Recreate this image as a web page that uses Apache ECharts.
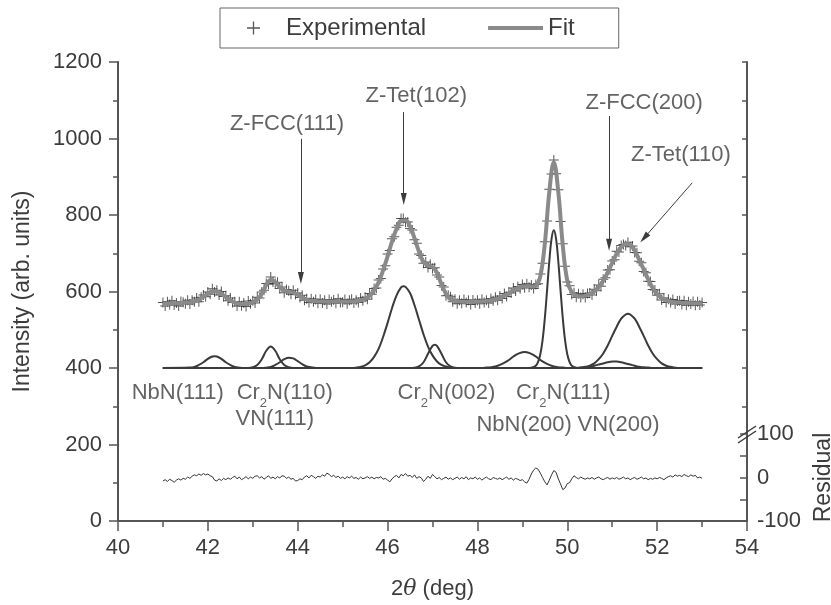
<!DOCTYPE html>
<html>
<head>
<meta charset="utf-8">
<script src="https://cdn.jsdelivr.net/npm/echarts@6/dist/echarts.min.js"></script>
<style>
  html, body { margin: 0; padding: 0; background: #fff; }
  #chart { width: 831px; height: 605px; }
</style>
</head>
<body>
<div id="chart"></div>
<script>
// experimental points, 41.00 .. 53.00 every 0.05 deg
var expStart = 41, expStep = 0.05;
var experimental = [
  571,562,573,566,576,565,570,562,574,572,
  568,577,567,577,573,583,573,585,591,586,
  599,593,607,599,603,591,600,587,589,576,
  583,571,573,562,573,563,570,561,575,568,
  576,570,585,583,599,603,621,619,638,625,
  621,624,608,612,597,605,602,593,603,592,
  596,584,590,577,581,571,581,573,579,569,
  580,570,577,567,579,573,578,569,581,571,
  572,579,568,577,580,570,577,571,583,576,
  585,580,595,593,608,609,630,634,659,667,
  698,707,738,743,768,773,791,791,781,782,
  765,761,735,726,698,694,674,677,663,671,
  660,662,643,638,616,612,589,590,586,573,
  580,568,577,569,579,571,577,566,578,570,
  577,568,580,571,577,570,582,576,585,577,
  588,582,595,587,598,596,609,601,613,607,
  618,610,620,611,617,608,618,620,646,674,
  730,784,867,907,944,908,866,783,725,666,
  625,615,592,597,585,594,584,593,584,595,
  596,591,606,602,617,614,632,636,656,657,
  680,683,705,703,720,723,720,729,717,719,
  702,701,679,675,652,649,627,626,605,604,
  590,594,578,583,571,580,571,579,567,575,
  576,566,576,564,573,567,574,564,573,565,
  571
];

// fit curve, 41.0 .. 53.0 every 0.1 deg
var fitStart = 41, fitStep = 0.1;
var fit = [
  568,568,569,569,570,571,572,574,579,586,
  594,600,600,594,585,577,571,568,567,568,
  572,579,594,617,631,625,611,603,600,597,
  591,584,579,576,575,574,574,574,574,574,
  574,574,574,575,577,581,589,603,624,655,
  692,731,764,785,786,770,739,704,677,667,
  664,649,619,594,580,575,574,573,573,573,
  573,574,575,577,579,583,589,595,603,609,
  613,614,613,615,640,725,860,938,860,720,
  628,598,589,587,589,593,600,612,628,650,
  675,699,716,724,722,707,683,658,632,609,
  594,583,577,574,572,571,570,570,569,569,
  568
];

// residual, 41.00 .. 53.00 every 0.05 deg
var residual = [
  -8,-5,-9,-4,-7,-11,-6,-3,-6,-2,
  -4,1,-2,3,6,4,8,5,9,6,
  8,4,2,-6,-8,-3,-7,-2,-5,-1,
  -4,0,3,-3,1,-5,-2,2,-3,1,
  -2,3,4,-1,2,-4,0,4,-2,1,
  -3,2,-1,4,3,-2,1,-4,-2,-8,
  -7,-3,-5,1,4,-1,5,2,-2,3,
  1,6,3,10,7,2,5,0,3,-2,
  1,-3,2,-1,3,-2,0,-4,1,-3,
  -1,2,-2,1,-3,0,-1,2,-4,-2,
  -6,-10,-3,2,5,-1,7,4,9,3,
  5,0,6,-2,2,-1,-9,-4,3,-2,
  7,2,-3,0,-5,-2,1,-4,-1,-5,
  -2,1,-4,0,-3,2,-5,-1,-3,1,
  -4,-1,-6,-2,1,-3,-5,0,-2,-4,
  -1,-5,-2,1,-4,-1,-6,-2,-4,-7,
  -5,-10,-13,-4,8,17,22,19,10,0,
  -10,-17,-6,6,16,12,-3,-15,-28,-24,
  -14,-12,-3,4,0,-3,1,-2,-4,-1,
  -3,0,-4,-1,1,-3,-5,-2,0,-4,
  -1,-3,0,-4,-2,1,-3,-1,-5,-2,
  0,-4,-2,1,-3,-1,-5,-2,-4,-1,
  -3,0,-2,-5,-1,2,4,1,6,3,
  5,2,7,4,2,6,3,5,-1,1,
  -2
];

// fitted component peaks on a 400 baseline
var nbn111 = [[41,400],[41.6,401],[41.7,403],[41.8,408],[41.9,415],[42.0,424],[42.1,430],[42.15,431],[42.2,430],[42.3,424],[42.4,415],[42.5,408],[42.6,403],[42.7,401],[42.8,400],[53,400]];
var cr2n110 = [[41,400],[42.9,400],[43.0,402],[43.1,408],[43.2,423],[43.3,445],[43.4,456],[43.5,445],[43.6,423],[43.7,408],[43.8,402],[43.9,400],[53,400]];
var vn111 = [[41,400],[43.2,400],[43.3,401],[43.4,403],[43.5,408],[43.6,415],[43.7,423],[43.8,427],[43.9,425],[44.0,418],[44.1,410],[44.2,404],[44.3,402],[44.4,400],[53,400]];
var ztet102 = [[41,400],[45.2,400],[45.3,401],[45.4,403],[45.5,407],[45.6,415],[45.7,429],[45.8,450],[45.9,481],[46.0,518],[46.1,557],[46.2,590],[46.3,611],[46.35,614],[46.4,612],[46.5,596],[46.6,564],[46.7,526],[46.8,488],[46.9,456],[47.0,433],[47.1,417],[47.2,408],[47.3,404],[47.4,401],[47.5,400],[53,400]];
var cr2n002 = [[41,400],[46.5,400],[46.6,401],[46.7,404],[46.8,415],[46.9,437],[47.0,458],[47.05,461],[47.1,458],[47.2,437],[47.3,415],[47.4,404],[47.5,401],[47.6,400],[53,400]];
var nbn200 = [[41,400],[48.1,400],[48.2,401],[48.3,402],[48.4,404],[48.5,408],[48.6,414],[48.7,421],[48.8,430],[48.9,437],[49.0,441],[49.05,442],[49.1,441],[49.2,437],[49.3,430],[49.4,421],[49.5,414],[49.6,408],[49.7,404],[49.8,402],[49.9,401],[50.0,400],[53,400]];
var cr2n111 = [[41,400],[49.1,400],[49.2,401],[49.3,406],[49.35,416],[49.4,436],[49.45,473],[49.5,530],[49.55,603],[49.6,679],[49.65,738],[49.7,760],[49.75,738],[49.8,679],[49.85,603],[49.9,530],[49.95,473],[50.0,436],[50.05,416],[50.1,406],[50.2,401],[50.3,400],[53,400]];
var vn200 = [[41,400],[50.2,400],[50.3,401],[50.4,402],[50.5,403],[50.6,406],[50.7,409],[50.8,412],[50.9,415],[51.0,417],[51.1,417],[51.2,415],[51.3,412],[51.4,409],[51.5,406],[51.6,403],[51.7,402],[51.8,401],[51.9,400],[53,400]];
var ztet110 = [[41,400],[50.2,400],[50.3,401],[50.4,403],[50.5,406],[50.6,412],[50.7,423],[50.8,438],[50.9,459],[51.0,484],[51.1,508],[51.2,529],[51.3,540],[51.35,542],[51.4,540],[51.5,529],[51.6,508],[51.7,484],[51.8,459],[51.9,438],[52.0,423],[52.1,412],[52.2,406],[52.3,403],[52.4,401],[52.5,400],[53,400]];
var components = [nbn111, cr2n110, vn111, ztet102, cr2n002, nbn200, cr2n111, vn200, ztet110];

// peak names and where they sit (deg, intensity)
var noteText = ['Z-FCC(111)','Z-Tet(102)','Z-FCC(200)','Z-Tet(110)',
  'NbN(111)','Cr{s|2}N(110)','VN(111)','Cr{s|2}N(002)','Cr{s|2}N(111)','NbN(200)','VN(200)'];
var notePos = [[43.76,1038],[46.64,1111],[51.71,1093],[52.53,957],
  [41.33,335],[43.71,335],[43.49,267],[47.31,335],[49.91,335],[49.04,251],[51.14,251]];
// arrows: from [x,y] to [x,y]
var arrows = [
  [44.07,999,44.07,635],
  [46.36,1069,46.36,842],
  [50.93,1059,50.93,722],
  [52.78,884,51.71,740]
];

var xTicks = [40, 54, 2];
var yTicks = [0, 1200, 200];
var rightTicks = [300,400,500,600,700,800,900,1000,1100,1200];
var residTicks = [-100, 100, 50];

var font = '"Liberation Sans", Arial, Helvetica, sans-serif';
var ink = '#3c3c3c';
var axisCol = '#555';
var plusIcon = 'path://M0,4.5h10v1h-10z M4.5,0h1v10h-1z';

var expData = experimental.map(function (v, i) { return [+(expStart + i * expStep).toFixed(2), v]; });
var fitData = fit.map(function (v, i) { return [+(fitStart + i * fitStep).toFixed(2), v]; });
var resData = residual.map(function (v, i) { return [+(expStart + i * expStep).toFixed(2), v]; });

var chart = echarts.init(document.getElementById('chart'));

var series = [
  {
    name: 'Experimental',
    type: 'scatter',
    data: expData,
    symbol: plusIcon,
    symbolSize: 10,
    itemStyle: { color: '#2e2e2e' },
    silent: true,
    z: 2
  }
];
components.forEach(function (c) {
  series.push({
    type: 'line',
    data: c,
    smooth: 0.4,
    showSymbol: false,
    lineStyle: { color: '#3a3a3a', width: 2 },
    silent: true,
    z: 3
  });
});
series.push({
  name: 'Fit',
  type: 'line',
  data: fitData,
  smooth: 0.4,
  showSymbol: false,
  itemStyle: { color: '#8a8a8a' },
  lineStyle: { color: '#8a8a8a', width: 4 },
  silent: true,
  z: 4
});
series.push({
  type: 'line',
  xAxisIndex: 2,
  yAxisIndex: 2,
  data: resData,
  showSymbol: false,
  lineStyle: { color: '#333', width: 1 },
  silent: true,
  z: 3
});
series.push({
  type: 'scatter',
  data: notePos.map(function (p, i) {
    return { value: p, label: { formatter: noteText[i] } };
  }),
  symbolSize: 1,
  itemStyle: { color: 'transparent' },
  label: {
    show: true,
    position: 'inside',
    color: ink,
    fontSize: 22,
    fontFamily: font,
    rich: {
      s: { fontSize: 13, color: ink, fontFamily: font, padding: [22, 0, 0, 0] }
    }
  },
  markLine: {
    silent: true,
    animation: false,
    label: { show: false },
    lineStyle: { color: ink, width: 1, type: 'solid' },
    data: arrows.map(function (a) {
      return [
        { coord: [a[0], a[1]], symbol: 'none' },
        { coord: [a[2], a[3]], symbol: 'path://M5,0L10,20L0,20Z', symbolSize: [6, 12] }
      ];
    })
  },
  silent: true,
  z: 5
});

var option = {
  animation: false,
  legend: {
    left: 220,
    top: 8,
    data: [
      { name: 'Experimental', icon: plusIcon },
      { name: 'Fit', icon: 'path://M0,0h55v4h-55z' }
    ],
    itemWidth: 55,
    itemHeight: 13,
    itemGap: 62,
    borderColor: '#666',
    borderWidth: 1,
    padding: [8, 44, 8, 27],
    textStyle: { fontSize: 24, color: ink, fontFamily: font },
    selectedMode: false
  },
  grid: [
    { left: 118, right: 84, top: 62, bottom: 84, outerBoundsMode: 'none', containLabel: false },
    { left: 118, right: 84, top: 434, height: 87, outerBoundsMode: 'none', containLabel: false }
  ],
  xAxis: [
    {
      type: 'value', gridIndex: 0, position: 'bottom',
      min: xTicks[0], max: xTicks[1], interval: xTicks[2],
      axisLine: { lineStyle: { color: axisCol, width: 2 } },
      axisTick: { length: 9, lineStyle: { color: axisCol, width: 1.5 } },
      minorTick: { show: true, splitNumber: 2, length: 5, lineStyle: { color: axisCol, width: 1.5 } },
      axisLabel: { fontSize: 22, color: ink, fontFamily: font, margin: 16 },
      splitLine: { show: false },
      name: '2{i|θ} (deg)',
      nameLocation: 'middle',
      nameGap: 57,
      nameTextStyle: { fontSize: 22, color: ink, fontFamily: font,
        rich: { i: { fontSize: 22, fontStyle: 'italic', color: ink, fontFamily: 'DejaVu Serif, serif' } } }
    },
    {
      type: 'value', gridIndex: 0, position: 'top',
      min: xTicks[0], max: xTicks[1], interval: xTicks[2],
      axisLine: { lineStyle: { color: axisCol, width: 2 } },
      axisTick: { inside: true, length: 10, lineStyle: { color: axisCol, width: 1.5 } },
      minorTick: { show: true, splitNumber: 2, length: 6, lineStyle: { color: axisCol, width: 1.5 } },
      axisLabel: { show: false },
      splitLine: { show: false }
    },
    {
      type: 'value', gridIndex: 1,
      min: xTicks[0], max: xTicks[1],
      show: false
    }
  ],
  yAxis: [
    {
      type: 'value', gridIndex: 0, position: 'left',
      min: yTicks[0], max: yTicks[1], interval: yTicks[2],
      axisLine: { show: true, lineStyle: { color: axisCol, width: 2 } },
      axisTick: { show: true, length: 9, lineStyle: { color: axisCol, width: 1.5 } },
      minorTick: { show: true, splitNumber: 2, length: 5, lineStyle: { color: axisCol, width: 1.5 } },
      axisLabel: { fontSize: 22, color: ink, fontFamily: font, margin: 16,
        formatter: function (v) { return String(v); } },
      splitLine: { show: false },
      name: 'Intensity (arb. units)',
      nameLocation: 'middle',
      nameGap: 84,
      nameTextStyle: { fontSize: 23, color: ink, fontFamily: font }
    },
    {
      type: 'value', gridIndex: 0, position: 'right',
      min: yTicks[0], max: yTicks[1], interval: 100,
      axisLine: { show: true, lineStyle: { color: axisCol, width: 2 } },
      axisTick: { show: true, inside: true, length: 5, customValues: rightTicks,
        lineStyle: { color: axisCol, width: 1.5 } },
      axisLabel: { show: false },
      splitLine: { show: false }
    },
    {
      type: 'value', gridIndex: 1, position: 'right',
      min: residTicks[0], max: residTicks[1], interval: residTicks[2],
      axisLine: { show: true, lineStyle: { color: axisCol, width: 2 } },
      axisTick: { show: true, inside: true, length: 7, lineStyle: { color: axisCol, width: 1.5 } },
      axisLabel: {
        fontSize: 22, color: ink, fontFamily: font, margin: 10,
        formatter: function (v) { return v % 100 === 0 ? String(v) : ''; }
      },
      splitLine: { show: false },
      name: 'Residual',
      nameLocation: 'middle',
      nameGap: 53,
      nameRotate: 90,
      nameTextStyle: { fontSize: 23, color: ink, fontFamily: font }
    }
  ],
  graphic: [
    { type: 'line', shape: { x1: 738, y1: 438, x2: 756, y2: 426 }, style: { stroke: ink, lineWidth: 1.5 }, z: 100 },
    { type: 'line', shape: { x1: 738, y1: 443, x2: 756, y2: 431 }, style: { stroke: ink, lineWidth: 1.5 }, z: 100 }
  ],
  series: series
};

option && chart.setOption(option);
</script>
</body>
</html>
